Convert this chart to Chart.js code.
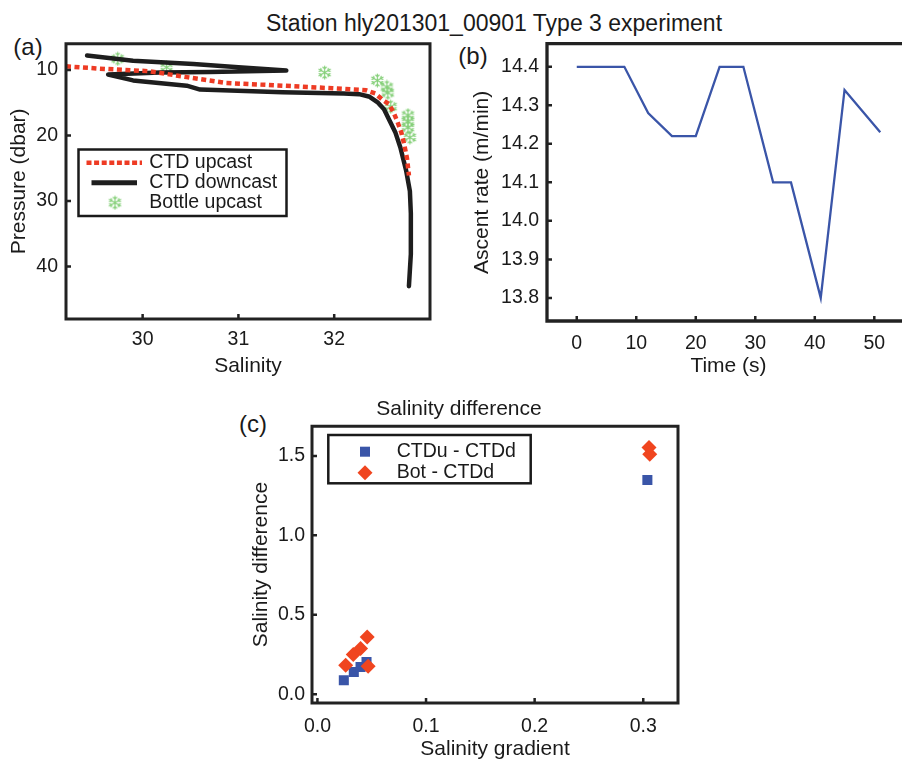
<!DOCTYPE html>
<html><head><meta charset="utf-8">
<script src="https://cdn.jsdelivr.net/npm/chart.js@4.4.1/dist/chart.umd.min.js"></script>
<style>
html,body{margin:0;padding:0;background:#fff;overflow:hidden;width:902px;height:762px;position:relative;}
canvas.c{position:absolute;}
.t{position:absolute;font-family:"Liberation Sans",Arial,sans-serif;color:#1a1a1a;white-space:nowrap;transform:translate(-50%,-50%);line-height:1;}
</style></head><body>
<div class="t" style="left:494px;top:23px;font-size:23px;">Station hly201301_00901 Type 3 experiment</div>
<div class="t" style="left:28px;top:47px;font-size:24px;">(a)</div>
<div class="t" style="left:473px;top:56px;font-size:24px;">(b)</div>
<div class="t" style="left:253px;top:424px;font-size:24px;">(c)</div>
<canvas id="ca" class="c" width="445" height="361" style="left:0px;top:24px;width:445px;height:361px"></canvas>
<canvas id="cb" class="c" width="470" height="361" style="left:440px;top:24px;width:470px;height:361px"></canvas>
<canvas id="cc" class="c" width="508" height="367" style="left:240px;top:395px;width:508px;height:367px"></canvas>
<script>
// ---------- Panel (a): salinity profiles ----------
const upcastSalinity = [29.20, 29.55, 30.07, 30.46, 30.87, 31.46, 31.98, 32.33, 32.43, 32.50, 32.57, 32.62, 32.66, 32.70, 32.73, 32.76, 32.78];
const upcastPressure = [9.45, 9.8, 10.2, 11.1, 12.0, 12.4, 12.8, 13.1, 13.6, 14.5, 15.2, 16.5, 17.9, 19.5, 21.3, 23.5, 26.1];
const downcastSalinity = [29.42, 29.90, 30.53, 31.00, 31.50, 30.70, 30.18, 29.64, 29.90, 30.46, 30.60, 31.46, 32.10, 32.26, 32.37, 32.45, 32.52, 32.58, 32.64, 32.69, 32.75, 32.79, 32.80, 32.80, 32.78];
const downcastPressure = [7.8, 8.6, 9.1, 9.6, 10.1, 10.3, 10.4, 10.7, 11.6, 12.4, 13.0, 13.4, 13.6, 13.7, 14.1, 14.9, 16.0, 17.8, 19.6, 21.8, 25.3, 28.5, 31.9, 38.1, 43.0];
const bottleSalinity = [29.74, 30.25, 31.90, 32.45, 32.55, 32.56, 32.59, 32.77, 32.77, 32.77, 32.79];
const bottlePressure = [8.3, 9.6, 10.4, 11.6, 12.6, 13.5, 15.6, 16.9, 17.9, 18.8, 20.3];
const aSalinityTicks = [30, 31, 32];
const aPressureTicks = [10, 20, 30, 40];

// ---------- Panel (b): ascent rate ----------
const timeSeconds = [0, 8, 12, 16, 20, 24, 28, 33, 36, 41, 45, 51];
const ascentRate = [14.4, 14.4, 14.28, 14.22, 14.22, 14.4, 14.4, 14.1, 14.1, 13.8, 14.34, 14.23];
const bTimeTicks = [0, 10, 20, 30, 40, 50];
const bRateTicks = [13.8, 13.9, 14.0, 14.1, 14.2, 14.3, 14.4];

// ---------- Panel (c): salinity difference ----------
const ctdGradient = [0.0243, 0.0335, 0.0397, 0.0452, 0.3038];
const ctdDifference = [0.088, 0.140, 0.172, 0.203, 1.348];
const botGradient = [0.026, 0.033, 0.0397, 0.0458, 0.0467, 0.3053, 0.306];
const botDifference = [0.183, 0.250, 0.288, 0.361, 0.176, 1.553, 1.511];
const cGradientTicks = [0.0, 0.1, 0.2, 0.3];
const cDifferenceTicks = [0.0, 0.5, 1.0, 1.5];

const F = '"Liberation Sans", Arial, sans-serif';
const INK = '#1a1a1a';
const RED = '#ee3b24';
const BLUE = '#3a55a8';
const RED_D = '#f0451f';
const GREEN = '#84cf78';
Chart.defaults.font.family = F;
Chart.defaults.color = INK;

function pairs(xs, ys){ return xs.map((x,i)=>({x:x, y:ys[i]})); }
function tickSetter(arr){ return s => { s.ticks = arr.map(v=>({value:v})); }; }

function makeFlake(size, color){
  const c = document.createElement('canvas'); c.width = size; c.height = size;
  const g = c.getContext('2d'); g.strokeStyle = color; g.lineWidth = 1.2; g.lineCap='round';
  const m = size/2, R = size/2 - 1;
  for (let k=0;k<6;k++){
    const a = k*Math.PI/3 + Math.PI/2, dx=Math.cos(a), dy=Math.sin(a);
    g.beginPath(); g.moveTo(m,m); g.lineTo(m+dx*R, m+dy*R);
    const bx = m+dx*R*0.55, by = m+dy*R*0.55;
    for (const s of [-1,1]){ const b = a + s*Math.PI/4; g.moveTo(bx,by); g.lineTo(bx+Math.cos(b)*R*0.38, by+Math.sin(b)*R*0.38); }
    g.stroke();
  }
  return c;
}
const flake = makeFlake(15, GREEN);

const framePlugin = {
  id:'frame',
  afterDatasetsDraw(chart, args, o){
    const {ctx, chartArea:a} = chart;
    ctx.save();
    ctx.strokeStyle = o.color || '#222'; ctx.lineWidth = o.width || 3;
    ctx.lineCap = 'square';
    ctx.beginPath();
    ctx.moveTo(a.right, a.top); ctx.lineTo(a.left, a.top); ctx.lineTo(a.left, a.bottom); ctx.lineTo(a.right, a.bottom);
    if (o.right !== false) ctx.closePath();
    ctx.stroke();
    const tl = o.tick || 5; ctx.lineWidth = o.tickWidth || 2.5; ctx.lineCap = 'butt';
    const xs = chart.scales.x, ys = chart.scales.y;
    ctx.beginPath();
    xs.ticks.forEach(t=>{ const p = xs.getPixelForValue(t.value); ctx.moveTo(p, a.bottom); ctx.lineTo(p, a.bottom - tl); });
    ys.ticks.forEach(t=>{ const p = ys.getPixelForValue(t.value); ctx.moveTo(a.left, p); ctx.lineTo(a.left + tl, p); });
    ctx.stroke();
    ctx.restore();
  }
};

// legend for panel (a); coordinates are canvas-relative (canvas top = 24px)
const legendA = {
  id:'legendA',
  afterDraw(chart){
    const ctx = chart.ctx, ds = chart.data.datasets;
    const oy = 6;
    ctx.save();
    ctx.fillStyle = '#fff'; ctx.fillRect(78.5,119.5+oy,208,66.5);
    ctx.strokeStyle = INK; ctx.lineWidth = 2.5; ctx.strokeRect(78.5,119.5+oy,208,66.5);
    const rows = [132.7+oy, 152.7+oy, 172.7+oy];
    ctx.beginPath(); ctx.setLineDash([5,2.6]); ctx.strokeStyle = ds[0].borderColor; ctx.lineWidth = 4.5;
    ctx.moveTo(86.5, rows[0]); ctx.lineTo(142, rows[0]); ctx.stroke();
    ctx.setLineDash([]);
    ctx.beginPath(); ctx.strokeStyle = ds[1].borderColor; ctx.lineWidth = 5;
    ctx.moveTo(91.5, rows[1]); ctx.lineTo(137, rows[1]); ctx.stroke();
    ctx.drawImage(flake, 115 - flake.width/2, rows[2] - flake.height/2);
    ctx.fillStyle = INK; ctx.font = '19.5px ' + F; ctx.textBaseline = 'middle'; ctx.textAlign = 'left';
    ds.forEach((d,i)=> ctx.fillText(d.label, 149.3, rows[i]));
    ctx.restore();
  }
};

const legendC = {
  id:'legendC',
  afterDraw(chart){
    const ctx = chart.ctx, ds = chart.data.datasets;
    ctx.save();
    ctx.fillStyle = '#fff'; ctx.fillRect(88.3,40,202.4,48.3);
    ctx.strokeStyle = INK; ctx.lineWidth = 2.5; ctx.strokeRect(88.3,40,202.4,48.3);
    const rows = [56.7, 77.7], mx = 125;
    ctx.fillStyle = ds[0].backgroundColor; ctx.fillRect(mx-5, rows[0]-5, 10, 10);
    ctx.fillStyle = ds[1].backgroundColor; ctx.beginPath();
    ctx.moveTo(mx-7.5, rows[1]); ctx.lineTo(mx, rows[1]-7.5); ctx.lineTo(mx+7.5, rows[1]); ctx.lineTo(mx, rows[1]+7.5); ctx.closePath(); ctx.fill();
    ctx.fillStyle = INK; ctx.font = '19.5px ' + F; ctx.textBaseline = 'middle'; ctx.textAlign = 'left';
    ds.forEach((d,i)=> ctx.fillText(d.label, 156.7, rows[i]));
    ctx.restore();
  }
};

function axis(opts){
  return Object.assign({
    type:'linear',
    grid:{display:false, drawTicks:false},
    border:{display:false},
  }, opts);
}
const tickFont = {size:19.5, family:F};
const titleFont = {size:21, family:F};

// Panel (a)
new Chart(document.getElementById('ca'), {
  type:'scatter',
  data:{datasets:[
    {label:'CTD upcast', data:pairs(upcastSalinity, upcastPressure), showLine:true, borderColor:RED, borderWidth:4.5, borderDash:[5,3.5], pointRadius:0, tension:0, order:0},
    {label:'CTD downcast', data:pairs(downcastSalinity, downcastPressure), showLine:true, borderColor:'#1e1e1e', borderWidth:4.5, pointRadius:0, tension:0, order:1, borderJoinStyle:'round', borderCapStyle:'round'},
    {label:'Bottle upcast', data:pairs(bottleSalinity, bottlePressure), showLine:false, pointStyle:flake, pointRadius:7, order:2}
  ]},
  options:{
    responsive:false, animation:false, devicePixelRatio:1,
    layout:{padding:{left:0, top:0, right:15, bottom:0}},
    plugins:{legend:{display:false}, tooltip:{enabled:false}, frame:{width:3, tick:5}},
    scales:{
      x: axis({min:29.2, max:33.0, afterBuildTicks:tickSetter(aSalinityTicks), afterFit:s=>{s.height=66;},
        ticks:{padding:9, font:tickFont, color:INK},
        title:{display:true, text:'Salinity', font:titleFont, color:INK, padding:{top:0, bottom:6}}}),
      y: axis({reverse:true, min:6, max:48, afterBuildTicks:tickSetter(aPressureTicks), afterFit:s=>{s.width=66;},
        ticks:{padding:8, font:tickFont, color:INK},
        title:{display:true, text:'Pressure (dbar)', font:titleFont, color:INK, padding:{top:7, bottom:0}}})
    }
  },
  plugins:[framePlugin, legendA]
});

// Panel (b)
new Chart(document.getElementById('cb'), {
  type:'scatter',
  data:{datasets:[
    {label:'Ascent rate', data:pairs(timeSeconds, ascentRate), showLine:true, borderColor:BLUE, borderWidth:2.3, pointRadius:0, tension:0}
  ]},
  options:{
    responsive:false, animation:false, devicePixelRatio:1,
    layout:{padding:{left:0, top:0, right:0, bottom:0}},
    plugins:{legend:{display:false}, tooltip:{enabled:false}, frame:{width:3.3, tick:5, right:false}},
    scales:{
      x: axis({min:-5, max:56, afterBuildTicks:tickSetter(bTimeTicks), afterFit:s=>{s.height=64;},
        ticks:{padding:11, font:tickFont, color:INK},
        title:{display:true, text:'Time (s)', font:titleFont, color:INK, padding:{top:0, bottom:6}}}),
      y: axis({min:13.74, max:14.46, afterBuildTicks:tickSetter(bRateTicks), afterFit:s=>{s.width=107;},
        ticks:{padding:8, font:tickFont, color:INK, callback:v=>Number(v).toFixed(1)},
        title:{display:true, text:'Ascent rate (m/min)', font:titleFont, color:INK, padding:{top:30, bottom:0}}})
    }
  },
  plugins:[framePlugin]
});

// Panel (c)
new Chart(document.getElementById('cc'), {
  type:'scatter',
  data:{datasets:[
    {label:'CTDu - CTDd', data:pairs(ctdGradient, ctdDifference), pointStyle:'rect', pointRadius:7.1, backgroundColor:BLUE, borderWidth:0, order:1},
    {label:'Bot - CTDd', data:pairs(botGradient, botDifference), pointStyle:'rectRot', pointRadius:7.5, backgroundColor:RED_D, borderWidth:0, order:0}
  ]},
  options:{
    responsive:false, animation:false, devicePixelRatio:1,
    layout:{padding:{left:0, top:0, right:70, bottom:0}},
    plugins:{legend:{display:false}, tooltip:{enabled:false}, frame:{width:3, tick:5},
      title:{display:true, text:'Salinity difference', font:{size:21, family:F, weight:'normal'}, color:INK, padding:{top:2, bottom:4}}},
    scales:{
      x: axis({min:-0.005, max:0.332, afterBuildTicks:tickSetter(cGradientTicks), afterFit:s=>{s.height=59;},
        ticks:{padding:12, font:tickFont, color:INK, callback:v=>Number(v).toFixed(1)},
        title:{display:true, text:'Salinity gradient', font:titleFont, color:INK, padding:{top:0, bottom:0}}}),
      y: axis({min:-0.055, max:1.687, afterBuildTicks:tickSetter(cDifferenceTicks), afterFit:s=>{s.width=72;},
        ticks:{padding:7, font:tickFont, color:INK, callback:v=>Number(v).toFixed(1)},
        title:{display:true, text:'Salinity difference', font:titleFont, color:INK, padding:{top:9, bottom:0}}})
    }
  },
  plugins:[framePlugin, legendC]
});
</script>
</body></html>
